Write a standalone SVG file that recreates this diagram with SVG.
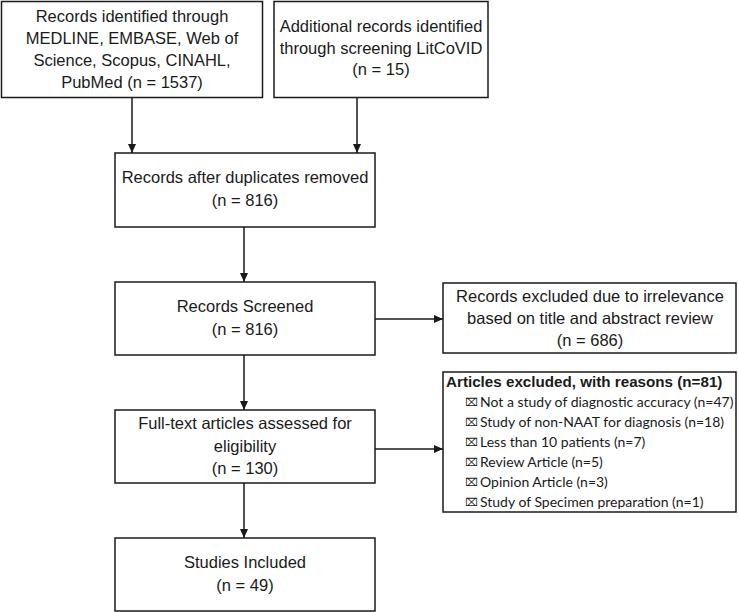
<svg xmlns="http://www.w3.org/2000/svg" width="738" height="612" viewBox="0 0 738 612">
<defs>
<marker id="ah" markerWidth="10" markerHeight="10" refX="9" refY="5" orient="auto" markerUnits="userSpaceOnUse">
<path d="M0,1 L9,5 L0,9 Z" fill="#1a1a1a"/>
</marker>
<style>
.box{fill:#fff;stroke:#1a1a1a;stroke-width:1.5}
.t{font-family:"Liberation Sans",Arial,sans-serif;font-size:16.5px;fill:#1a1a1a;text-anchor:middle}
.h{font-family:"Liberation Sans",Arial,sans-serif;font-size:15.2px;font-weight:bold;fill:#1a1a1a}
.i{font-family:Lato,"Open Sans",sans-serif;font-size:14px;fill:#1a1a1a}
.b{font-family:"DejaVu Sans",sans-serif;font-size:11px;fill:#1a1a1a}
.c{fill:none;stroke:#1a1a1a;stroke-width:1.5;marker-end:url(#ah)}
</style>
</defs>
<rect width="738" height="612" fill="#fff"/>
<g id="n1">
<rect class="box" x="1.5" y="1.5" width="261" height="96"/>
<text class="t" x="132" y="22">Records identified through</text>
<text class="t" x="132" y="44">MEDLINE, EMBASE, Web of</text>
<text class="t" x="132" y="66">Science, Scopus, CINAHL,</text>
<text class="t" x="132" y="88">PubMed (n = 1537)</text>
</g>
<g id="n2">
<rect class="box" x="274" y="1.5" width="214" height="96"/>
<text class="t" x="381" y="32">Additional records identified</text>
<text class="t" x="381" y="54">through screening LitCoVID</text>
<text class="t" x="381" y="75">(n = 15)</text>
</g>
<g id="n3">
<rect class="box" x="115" y="153" width="260" height="74"/>
<text class="t" x="245" y="183">Records after duplicates removed</text>
<text class="t" x="245" y="206">(n = 816)</text>
</g>
<g id="n4">
<rect class="box" x="115" y="282" width="260" height="73"/>
<text class="t" x="245" y="312">Records Screened</text>
<text class="t" x="245" y="335">(n = 816)</text>
</g>
<g id="n5">
<rect class="box" x="115" y="410" width="260" height="73"/>
<text class="t" x="245" y="429">Full-text articles assessed for</text>
<text class="t" x="245" y="452">eligibility</text>
<text class="t" x="245" y="474">(n = 130)</text>
</g>
<g id="n6">
<rect class="box" x="115" y="538" width="260" height="73"/>
<text class="t" x="245" y="568">Studies Included</text>
<text class="t" x="245" y="591">(n = 49)</text>
</g>
<g id="n7">
<rect class="box" x="443" y="283" width="293" height="70"/>
<text class="t" x="590" y="302">Records excluded due to irrelevance</text>
<text class="t" x="590" y="324">based on title and abstract review</text>
<text class="t" x="590" y="346">(n = 686)</text>
</g>
<g id="n8">
<rect class="box" x="443" y="372" width="293" height="140"/>
<text class="h" x="446" y="387">Articles excluded, with reasons (n=81)</text>
<text class="b" x="465" y="406">⌧</text><text class="i" x="480" y="407">Not a study of diagnostic accuracy (n=47)</text>
<text class="b" x="465" y="426">⌧</text><text class="i" x="480" y="427">Study of non-NAAT for diagnosis (n=18)</text>
<text class="b" x="465" y="446">⌧</text><text class="i" x="480" y="447">Less than 10 patients (n=7)</text>
<text class="b" x="465" y="466">⌧</text><text class="i" x="480" y="467">Review Article (n=5)</text>
<text class="b" x="465" y="486">⌧</text><text class="i" x="480" y="487">Opinion Article (n=3)</text>
<text class="b" x="465" y="506">⌧</text><text class="i" x="480" y="507">Study of Specimen preparation (n=1)</text>
</g>
<g id="connectors">
<line class="c" x1="132" y1="98" x2="132" y2="153"/>
<line class="c" x1="357" y1="98" x2="357" y2="153"/>
<line class="c" x1="244" y1="227" x2="244" y2="282"/>
<line class="c" x1="244" y1="355" x2="244" y2="410"/>
<line class="c" x1="244" y1="483" x2="244" y2="538"/>
<line class="c" x1="375" y1="319" x2="443" y2="319"/>
<line class="c" x1="375" y1="449" x2="443" y2="449"/>
</g>
</svg>
